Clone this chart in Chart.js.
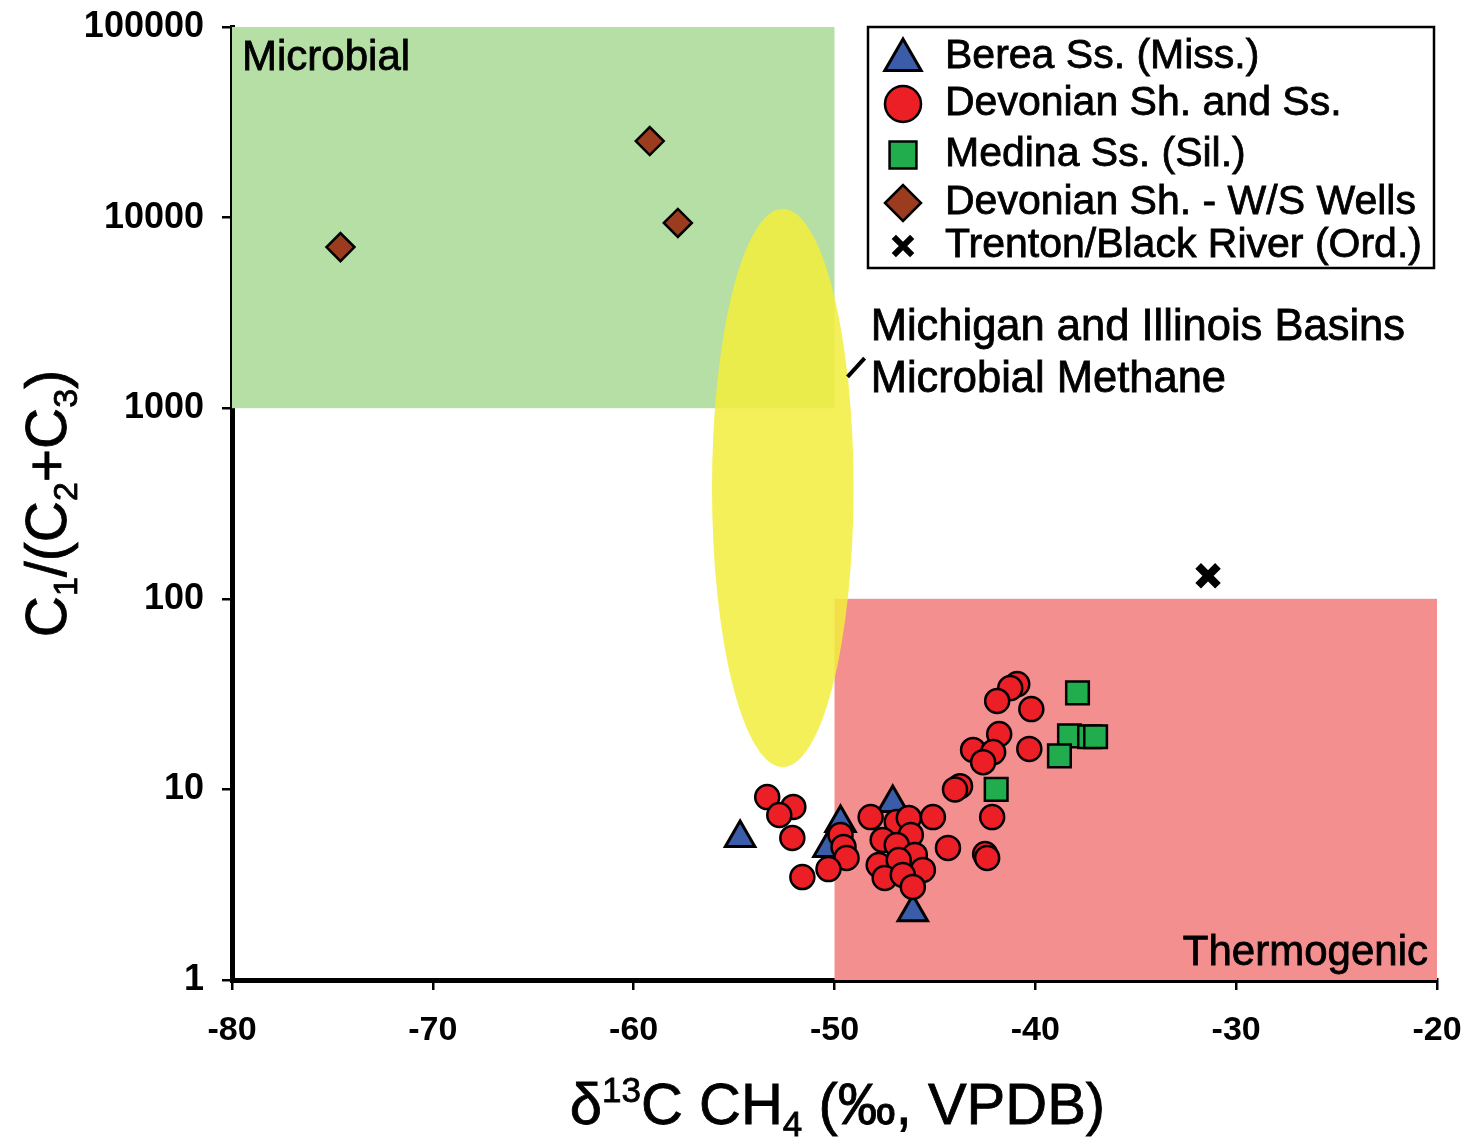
<!DOCTYPE html>
<html>
<head>
<meta charset="utf-8">
<script src="https://cdn.jsdelivr.net/npm/chart.js@4.4.1/dist/chart.umd.min.js"></script>
<style>
  html, body { margin: 0; padding: 0; background: #fff; }
  #wrap { width: 1471px; height: 1139px; }
</style>
</head>
<body>
<div id="wrap"><canvas id="isoChart" width="1471" height="1139"></canvas></div>
<script>
// series values: d13C CH4 (x) and C1/(C2+C3) (y)
const bereaX = [-54.7, -49.7, -50.3, -47.1, -46.1];
const bereaY = [5.56, 6.66, 4.93, 8.49, 2.27];

const devonianX = [-40.9, -41.25, -41.9, -40.2, -41.8, -43.1, -42.1, -42.6, -40.3, -43.75,
  -44.0, -45.1, -42.15, -42.5, -42.4, -48.2, -46.9, -46.3, -44.35, -47.6,
  -46.2, -46.9, -47.8, -46.0, -46.8, -45.6, -47.5, -46.6, -46.1,
  -53.35, -52.05, -52.75, -52.1, -49.7, -49.55, -49.4, -50.3, -51.6];
const devonianY = [35.7, 34.0, 29.1, 26.4, 19.5, 16.1, 15.7, 13.9, 16.3, 10.4,
  10.0, 7.16, 7.16, 4.58, 4.37, 7.16, 6.75, 7.08, 4.93, 5.43,
  5.77, 5.11, 4.01, 4.53, 4.26, 3.78, 3.43, 3.56, 3.08,
  9.12, 8.09, 7.34, 5.56, 5.77, 4.99, 4.37, 3.82, 3.47];

const medinaX = [-37.9, -38.3, -37.3, -37.0, -38.8, -41.95];
const medinaY = [32.1, 19.1, 18.9, 18.9, 15.0, 10.0];

const wsWellsX = [-74.6, -59.2, -57.8];
const wsWellsY = [7000, 25200, 9370];

const trentonX = [-31.4];
const trentonY = [132];

const seriesLabels = ['Berea Ss. (Miss.)', 'Devonian Sh. and Ss.', 'Medina Ss. (Sil.)',
  'Devonian Sh. - W/S Wells', 'Trenton/Black River (Ord.)'];

const xTicks = [-80, -70, -60, -50, -40, -30, -20];
const yTicks = [1, 10, 100, 1000, 10000, 100000];

// genetic fields and the Michigan/Illinois microbial field
const microbialZone = { x: [-80, -50], y: [1000, 100000] };
const thermoZone = { x: [-50, -20], y: [1, 100] };
const michiganEllipse = { x: [-56.1, -49.05], y: [13.1, 11100] };

const pts = (xs, ys) => xs.map((x, i) => ({ x: x, y: ys[i] }));
const FONT = "'Liberation Sans', Arial, sans-serif";

// text with a thin outline so it reads as heavy as the scanned original
function heavyText(ctx, txt, x, y) {
  ctx.fillText(txt, x, y);
  ctx.strokeText(txt, x, y);
}

function richText(ctx, parts, x, y, size) {
  // parts: [text, 0 normal | 1 subscript | 2 superscript]
  const small = Math.round(size * 0.6);
  let total = 0;
  parts.forEach(p => {
    ctx.font = (p[1] ? small : size) + 'px ' + FONT;
    total += ctx.measureText(p[0]).width;
  });
  let cx = x - total / 2;
  parts.forEach(p => {
    const s = p[1] ? small : size;
    ctx.font = s + 'px ' + FONT;
    let dy = 0;
    if (p[1] === 1) dy = size * 0.2;
    if (p[1] === 2) dy = -size * 0.38;
    heavyText(ctx, p[0], cx, y + dy);
    cx += ctx.measureText(p[0]).width;
  });
}

const fieldsPlugin = {
  id: 'fields',
  beforeDatasetsDraw(chart) {
    const { ctx, chartArea, scales } = chart;
    const X = scales.x, Y = scales.y;
    ctx.save();
    ctx.beginPath();
    ctx.rect(chartArea.left, chartArea.top, chartArea.right - chartArea.left, chartArea.bottom - chartArea.top);
    ctx.clip();

    ctx.fillStyle = '#b5dfa5';
    let x0 = X.getPixelForValue(microbialZone.x[0]), x1 = X.getPixelForValue(microbialZone.x[1]);
    let y0 = Y.getPixelForValue(microbialZone.y[1]), y1 = Y.getPixelForValue(microbialZone.y[0]);
    ctx.fillRect(x0, y0, x1 - x0, y1 - y0);

    ctx.fillStyle = '#f48f90';
    x0 = X.getPixelForValue(thermoZone.x[0]); x1 = X.getPixelForValue(thermoZone.x[1]);
    y0 = Y.getPixelForValue(thermoZone.y[1]); y1 = Y.getPixelForValue(thermoZone.y[0]);
    ctx.fillRect(x0, y0, x1 - x0, y1 - y0);

    x0 = X.getPixelForValue(michiganEllipse.x[0]); x1 = X.getPixelForValue(michiganEllipse.x[1]);
    y0 = Y.getPixelForValue(michiganEllipse.y[1]); y1 = Y.getPixelForValue(michiganEllipse.y[0]);
    ctx.fillStyle = 'rgba(242, 238, 62, 0.86)';
    ctx.beginPath();
    ctx.ellipse((x0 + x1) / 2, (y0 + y1) / 2, (x1 - x0) / 2, (y1 - y0) / 2, 0, 0, Math.PI * 2);
    ctx.fill();

    ctx.fillStyle = '#000';
    ctx.strokeStyle = '#000';
    ctx.lineWidth = 0.8;
    ctx.font = '42px ' + FONT;
    ctx.textBaseline = 'alphabetic';
    ctx.textAlign = 'left';
    heavyText(ctx, 'Microbial', X.getPixelForValue(-79.5), Y.getPixelForValue(59400));
    ctx.textAlign = 'right';
    heavyText(ctx, 'Thermogenic', X.getPixelForValue(-20.45), Y.getPixelForValue(1.2));
    ctx.restore();
  },
  afterDraw(chart) {
    const { ctx, chartArea, scales } = chart;
    const X = scales.x, Y = scales.y;
    ctx.save();
    ctx.fillStyle = '#000';
    ctx.strokeStyle = '#000';
    ctx.textBaseline = 'alphabetic';

    // ellipse annotation
    ctx.font = '43.5px ' + FONT;
    ctx.lineWidth = 0.8;
    ctx.textAlign = 'left';
    heavyText(ctx, 'Michigan and Illinois Basins', X.getPixelForValue(-48.2), Y.getPixelForValue(2280));
    heavyText(ctx, 'Microbial Methane', X.getPixelForValue(-48.2), Y.getPixelForValue(1216));
    ctx.lineWidth = 4;
    ctx.beginPath();
    ctx.moveTo(X.getPixelForValue(-49.35), Y.getPixelForValue(1460));
    ctx.lineTo(X.getPixelForValue(-48.5), Y.getPixelForValue(1830));
    ctx.stroke();

    // legend box
    const bx = 868, by = 27, bw = 566, bh = 241;
    ctx.fillStyle = '#fff';
    ctx.fillRect(bx, by, bw, bh);
    ctx.lineWidth = 2.5;
    ctx.strokeRect(bx, by, bw, bh);
    const rowY = [57, 104, 155, 203, 246];
    const legRadius = [21, 18, 19, 18, 13];
    chart.data.datasets.forEach((ds, i) => {
      ctx.fillStyle = ds.backgroundColor;
      ctx.strokeStyle = ds.borderColor;
      ctx.lineWidth = i === 4 ? 6 : ds.borderWidth;
      Chart.helpers.drawPoint(ctx, { pointStyle: ds.pointStyle, radius: legRadius[i], borderWidth: ctx.lineWidth, rotation: 0 },
        903, rowY[i] + (i === 0 ? 3 : 0));
      ctx.fillStyle = '#000';
      ctx.strokeStyle = '#000';
      ctx.lineWidth = 0.8;
      ctx.font = '41px ' + FONT;
      ctx.textBaseline = 'middle';
      ctx.textAlign = 'left';
      heavyText(ctx, ds.label, 945, rowY[i]);
    });

    // axis titles with sub/superscripts
    ctx.textBaseline = 'alphabetic';
    ctx.fillStyle = '#000';
    ctx.lineWidth = 0.8;
    richText(ctx, [['\u03b4', 0], ['13', 2], ['C CH', 0], ['4', 1], [' (\u2030, VPDB)', 0]],
      (chartArea.left + chartArea.right) / 2 + 3, 1124, 58);
    ctx.translate(66, (chartArea.top + chartArea.bottom) / 2);
    ctx.rotate(-Math.PI / 2);
    richText(ctx, [['C', 0], ['1', 1], ['/(C', 0], ['2', 1], ['+C', 0], ['3', 1], [')', 0]], 0, 0, 57);
    ctx.restore();
  }
};

new Chart(document.getElementById('isoChart').getContext('2d'), {
  type: 'scatter',
  data: {
    datasets: [
      { label: seriesLabels[0], data: pts(bereaX, bereaY), pointStyle: 'triangle', pointRadius: 17,
        backgroundColor: '#3b5ca9', borderColor: '#000', borderWidth: 3, order: 3 },
      { label: seriesLabels[1], data: pts(devonianX, devonianY), pointStyle: 'circle', pointRadius: 12,
        backgroundColor: '#ec1f26', borderColor: '#000', borderWidth: 2.5, order: 1 },
      { label: seriesLabels[2], data: pts(medinaX, medinaY), pointStyle: 'rect', pointRadius: 16,
        backgroundColor: '#21ad4d', borderColor: '#000', borderWidth: 2.5, order: 2 },
      { label: seriesLabels[3], data: pts(wsWellsX, wsWellsY), pointStyle: 'rectRot', pointRadius: 14,
        backgroundColor: '#9c3c1f', borderColor: '#000', borderWidth: 2.5, order: 4 },
      { label: seriesLabels[4], data: pts(trentonX, trentonY), pointStyle: 'crossRot', pointRadius: 14,
        backgroundColor: '#000', borderColor: '#000', borderWidth: 8, order: 5 }
    ]
  },
  options: {
    responsive: false,
    animation: false,
    devicePixelRatio: 1,
    layout: { padding: { top: 27, right: 34, left: 0, bottom: 0 } },
    plugins: {
      legend: { display: false },
      tooltip: { enabled: false }
    },
    scales: {
      x: {
        type: 'linear',
        min: -80,
        max: -20,
        afterBuildTicks: s => { s.ticks = xTicks.map(v => ({ value: v })); },
        afterFit: s => { s.height = 159; s.paddingLeft = 0; s.paddingRight = 0; },
        ticks: { color: '#000', font: { family: FONT, size: 34, weight: 'bold' }, padding: 20, maxRotation: 0, autoSkip: false },
        grid: { drawOnChartArea: false, drawTicks: true, tickLength: 10, color: '#000', lineWidth: 2.5 },
        border: { color: '#000', width: 5 }
      },
      y: {
        type: 'logarithmic',
        min: 1,
        max: 100000,
        afterBuildTicks: s => { s.ticks = yTicks.map(v => ({ value: v })); },
        afterFit: s => { s.width = 232; s.paddingTop = 0; s.paddingBottom = 0; },
        ticks: { color: '#000', font: { family: FONT, size: 36, weight: 'bold' }, padding: 18, autoSkip: false, callback: v => String(v) },
        grid: { drawOnChartArea: false, drawTicks: true, tickLength: 10, color: '#000', lineWidth: 2.5 },
        border: { color: '#000', width: 5 }
      }
    }
  },
  plugins: [fieldsPlugin]
});
</script>
</body>
</html>
